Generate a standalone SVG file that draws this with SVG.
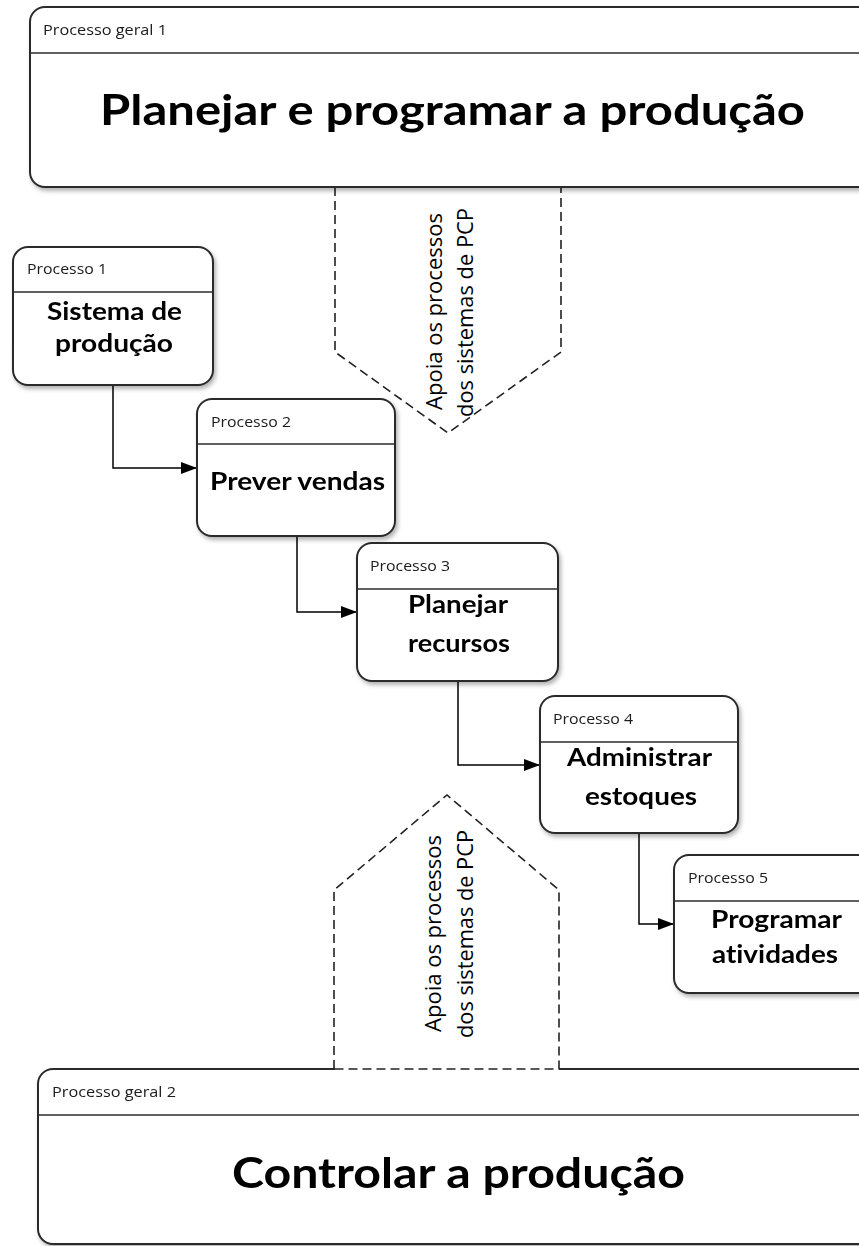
<svg xmlns="http://www.w3.org/2000/svg" width="859" height="1246" viewBox="0 0 859 1246">
  <defs>
    <filter id="shadow" x="-10%" y="-10%" width="130%" height="130%">
      <feDropShadow dx="2" dy="3" stdDeviation="2" flood-color="#000" flood-opacity="0.3"/>
    </filter>
    <marker id="arrow" viewBox="0 0 16 12" refX="16" refY="6" markerWidth="16" markerHeight="12" markerUnits="userSpaceOnUse" orient="auto">
      <path d="M0,0 L16,6 L0,12 Z" fill="#000"/>
    </marker>
  </defs>
  <style>
    .box { fill: #ffffff; stroke: #2b2b2b; stroke-width: 2; }
    .divider { stroke: #2b2b2b; stroke-width: 1.6; fill: none; }
    .label { font-family: "Open Sans", "Noto Sans", sans-serif; font-size: 14px; fill: #1a1a1a; }
    .title { font-family: Lato, "Liberation Sans", sans-serif; font-weight: bold; font-size: 25px; fill: #000; text-anchor: middle; font-variant-ligatures: none; }
    .big { font-family: Lato, "Liberation Sans", sans-serif; font-weight: bold; font-size: 42px; fill: #000; text-anchor: middle; font-variant-ligatures: none; }
    .note { font-family: "Open Sans", "Noto Sans", sans-serif; font-size: 21px; fill: #000; text-anchor: middle; }
    .dash { fill: none; stroke: #222; stroke-width: 1.6; stroke-dasharray: 9 5; }
    .conn { fill: none; stroke: #000; stroke-width: 1.5; }
  </style>
  <rect width="859" height="1246" fill="#ffffff"/>

  <!-- upper support arrow (points down) -->
  <g id="support-top">
    <path class="dash" d="M335,187 V352 L448,433 L561,352 V187"/>
    <text class="note" transform="translate(442,311.5) rotate(-90)" textLength="197" lengthAdjust="spacingAndGlyphs">Apoia os processos</text>
    <text class="note" transform="translate(473,312.5) rotate(-90)" textLength="209" lengthAdjust="spacingAndGlyphs">dos sistemas de PCP</text>
  </g>

  <!-- general process 1 -->
  <g id="geral1" filter="url(#shadow)">
    <rect class="box" x="30" y="7" width="870" height="180" rx="15"/>
    <line class="divider" x1="30" y1="53" x2="900" y2="53"/>
    <text class="label" x="43" y="35" textLength="124" lengthAdjust="spacingAndGlyphs">Processo geral 1</text>
    <text class="big" x="452.5" y="125" textLength="705" lengthAdjust="spacingAndGlyphs">Planejar e programar a produção</text>
  </g>

  <!-- connectors -->
  <g id="connectors">
    <path class="conn" d="M113,385 V468 H197" marker-end="url(#arrow)"/>
    <path class="conn" d="M297,536 V612 H357" marker-end="url(#arrow)"/>
    <path class="conn" d="M458,681 V765 H540" marker-end="url(#arrow)"/>
    <path class="conn" d="M639,833 V924 H674" marker-end="url(#arrow)"/>
  </g>

  <g id="p1" filter="url(#shadow)">
    <rect class="box" x="13" y="247" width="200" height="138" rx="15"/>
    <line class="divider" x1="13" y1="292" x2="213" y2="292"/>
    <text class="label" x="27" y="274" textLength="80" lengthAdjust="spacingAndGlyphs">Processo 1</text>
    <text class="title" x="114.5" y="320" textLength="135" lengthAdjust="spacingAndGlyphs">Sistema de</text>
    <text class="title" x="114" y="352" textLength="118" lengthAdjust="spacingAndGlyphs">produção</text>
  </g>

  <g id="p2" filter="url(#shadow)">
    <rect class="box" x="197" y="399" width="198" height="137" rx="15"/>
    <line class="divider" x1="197" y1="444" x2="395" y2="444"/>
    <text class="label" x="211" y="427" textLength="80" lengthAdjust="spacingAndGlyphs">Processo 2</text>
    <text class="title" x="297.5" y="490" textLength="175" lengthAdjust="spacingAndGlyphs">Prever vendas</text>
  </g>

  <g id="p3" filter="url(#shadow)">
    <rect class="box" x="357" y="543" width="201" height="138" rx="15"/>
    <line class="divider" x1="357" y1="589" x2="558" y2="589"/>
    <text class="label" x="370" y="571" textLength="80" lengthAdjust="spacingAndGlyphs">Processo 3</text>
    <text class="title" x="458" y="613" textLength="100" lengthAdjust="spacingAndGlyphs">Planejar</text>
    <text class="title" x="459" y="652" textLength="102" lengthAdjust="spacingAndGlyphs">recursos</text>
  </g>

  <g id="p4" filter="url(#shadow)">
    <rect class="box" x="540" y="696" width="198" height="137" rx="15"/>
    <line class="divider" x1="540" y1="742" x2="738" y2="742"/>
    <text class="label" x="553" y="724" textLength="80" lengthAdjust="spacingAndGlyphs">Processo 4</text>
    <text class="title" x="639.5" y="766" textLength="145" lengthAdjust="spacingAndGlyphs">Administrar</text>
    <text class="title" x="641" y="805" textLength="112" lengthAdjust="spacingAndGlyphs">estoques</text>
  </g>

  <g id="p5" filter="url(#shadow)">
    <rect class="box" x="674" y="855" width="200" height="138" rx="15"/>
    <line class="divider" x1="674" y1="901" x2="874" y2="901"/>
    <text class="label" x="688" y="883" textLength="80" lengthAdjust="spacingAndGlyphs">Processo 5</text>
    <text class="title" x="776.5" y="928" textLength="131" lengthAdjust="spacingAndGlyphs">Programar</text>
    <text class="title" x="775" y="963" textLength="126" lengthAdjust="spacingAndGlyphs">atividades</text>
  </g>

  <!-- general process 2 -->
  <g id="geral2" filter="url(#shadow)">
    <rect class="box" x="38" y="1069" width="870" height="175" rx="15"/>
    <line class="divider" x1="38" y1="1115" x2="908" y2="1115"/>
    <text class="label" x="52" y="1097" textLength="124" lengthAdjust="spacingAndGlyphs">Processo geral 2</text>
    <text class="big" x="458.5" y="1188" textLength="453" lengthAdjust="spacingAndGlyphs">Controlar a produção</text>
  </g>

  <!-- lower support arrow (points up) -->
  <g id="support-bottom">
    <rect x="335" y="1066" width="224" height="5" fill="#ffffff"/>
    <path class="dash" d="M334,1069 V890 L447,795 L559,890 V1069 Z"/>
    <text class="note" transform="translate(441,933.5) rotate(-90)" textLength="197" lengthAdjust="spacingAndGlyphs">Apoia os processos</text>
    <text class="note" transform="translate(473,934) rotate(-90)" textLength="208" lengthAdjust="spacingAndGlyphs">dos sistemas de PCP</text>
  </g>
</svg>
